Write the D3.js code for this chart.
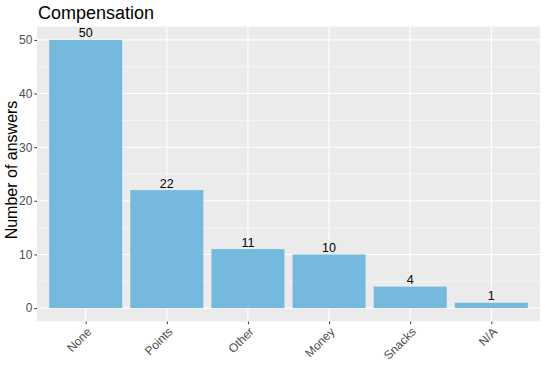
<!DOCTYPE html>
<head>
<script src="https://d3js.org/d3.v7.min.js"></script>
<style>
  body { margin: 0; background: #fff; }
  svg text { font-family: "Liberation Sans", Arial, sans-serif; }
</style>
</head>
<body>
<div id="chart"></div>
<script>
var categories = ["None", "Points", "Other", "Money", "Snacks", "N/A"];
var counts = [50, 22, 11, 10, 4, 1];
var yTicks = [0, 10, 20, 30, 40, 50];
var yMinor = [5, 15, 25, 35, 45];

var width = 545, height = 382;
var panel = { left: 37, right: 540, top: 26.5, bottom: 321.5 };

var svg = d3.select("#chart").append("svg")
  .attr("width", width)
  .attr("height", height);

// discrete scale with ggplot-like 0.6 expansion
var n = categories.length;
var step = (panel.right - panel.left) / (n - 1 + 1.2);
var x = d3.scalePoint()
  .domain(categories)
  .range([panel.left + 0.6 * step, panel.right - 0.6 * step]);
var barW = step * 0.9;

var y = d3.scaleLinear()
  .domain([-2.5, 52.5])
  .range([panel.bottom, panel.top]);

// panel background
svg.append("rect")
  .attr("x", panel.left).attr("y", panel.top)
  .attr("width", panel.right - panel.left)
  .attr("height", panel.bottom - panel.top)
  .attr("fill", "#ebebeb");

// grid
svg.selectAll(".minor").data(yMinor).enter().append("line")
  .attr("x1", panel.left).attr("x2", panel.right)
  .attr("y1", d => y(d)).attr("y2", d => y(d))
  .attr("stroke", "#fff").attr("stroke-width", 0.55);
svg.selectAll(".major").data(yTicks).enter().append("line")
  .attr("x1", panel.left).attr("x2", panel.right)
  .attr("y1", d => y(d)).attr("y2", d => y(d))
  .attr("stroke", "#fff").attr("stroke-width", 1.1);
svg.selectAll(".vgrid").data(categories).enter().append("line")
  .attr("x1", d => x(d)).attr("x2", d => x(d))
  .attr("y1", panel.top).attr("y2", panel.bottom)
  .attr("stroke", "#fff").attr("stroke-width", 1.1);

// bars
svg.selectAll(".bar").data(categories).enter().append("rect")
  .attr("x", d => x(d) - barW / 2)
  .attr("width", barW)
  .attr("y", (d, i) => y(counts[i]))
  .attr("height", (d, i) => y(0) - y(counts[i]))
  .attr("fill", "#75badd");

// labels on bars
svg.selectAll(".lbl").data(categories).enter().append("text")
  .attr("x", d => x(d))
  .attr("y", (d, i) => y(counts[i]) - 2.5)
  .attr("text-anchor", "middle")
  .style("font-size", "12.5px")
  .attr("fill", "#000")
  .text((d, i) => counts[i]);

// y axis
var yAxis = svg.append("g")
  .attr("transform", "translate(" + panel.left + ",0)")
  .call(d3.axisLeft(y).tickValues(yTicks).tickSize(2.7).tickPadding(2));
yAxis.select(".domain").remove();
yAxis.selectAll("line").attr("stroke", "#333").attr("stroke-width", 1);
yAxis.selectAll("text").attr("fill", "#4d4d4d").style("font-size", "12px");

// x axis
var xAxis = svg.append("g")
  .attr("transform", "translate(0," + panel.bottom + ")")
  .call(d3.axisBottom(x).tickSize(2.7).tickPadding(2));
xAxis.select(".domain").remove();
xAxis.selectAll("line").attr("stroke", "#333").attr("stroke-width", 1);
xAxis.selectAll("text")
  .attr("fill", "#4d4d4d").style("font-size", "12px")
  .attr("text-anchor", "end")
  .attr("dy", null)
  .attr("y", 0)
  .attr("transform", "translate(6,11) rotate(-45)");

// y axis title
svg.append("text")
  .attr("transform", "translate(17," + ((panel.top + panel.bottom) / 2 - 4) + ") rotate(-90)")
  .attr("text-anchor", "middle")
  .style("font-size", "16px")
  .attr("fill", "#000")
  .text("Number of answers");

// title
svg.append("text")
  .attr("x", panel.left + 1).attr("y", 18.5)
  .style("font-size", "18px")
  .attr("fill", "#000")
  .text("Compensation");
</script>
</body>
